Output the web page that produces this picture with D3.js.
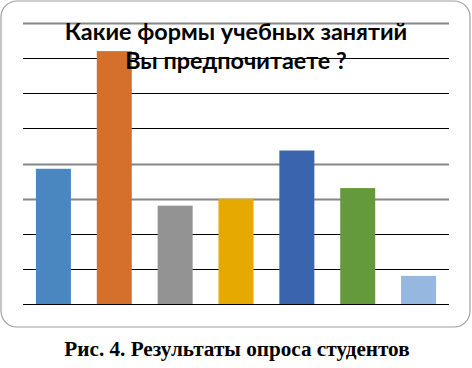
<!DOCTYPE html>
<html><head><meta charset="utf-8">
<script src="https://cdn.jsdelivr.net/npm/d3@7"></script>
<style>html,body{margin:0;padding:0;background:#fff;}svg{display:block;}</style>
</head><body>
<script>
const categories = ["Форма 1","Форма 2","Форма 3","Форма 4","Форма 5","Форма 6","Форма 7"];
const values = [3.85, 7.2, 2.8, 3.0, 4.37, 3.3, 0.8];
const barColors = ["#4a87c0","#d4702b","#939393","#e5a900","#3a64ae","#659a3c","#95b7e0"];
const yTicks = [0,1,2,3,4,5,6,7,8];
const titleLines = ["Какие формы учебных занятий","Вы предпочитаете ?"];
const caption = "Рис. 4. Результаты опроса студентов";

const W = 472, H = 368;
const svg = d3.select("body").append("svg").attr("width", W).attr("height", H);

svg.append("rect").attr("x",1).attr("y",1).attr("width",469).attr("height",326)
  .attr("rx",16).attr("ry",16).attr("fill","#fff").attr("stroke","#a0a0a0").attr("stroke-width",1.2);

const x = d3.scaleBand().domain(categories).range([23,449]).paddingInner(0.425).paddingOuter(0.2125);
const y = d3.scaleLinear().domain([0,8]).range([304,23]);

const grayIdx = new Set([8,4,3]);
svg.append("g").selectAll("line").data(yTicks).join("line")
  .attr("x1",23).attr("x2",449)
  .attr("y1",d=>Math.round(y(d))+0.5).attr("y2",d=>Math.round(y(d))+0.5)
  .attr("stroke",d=>grayIdx.has(d)?"#858585":"#000")
  .attr("stroke-width",d=>grayIdx.has(d)?2:1);

svg.append("g").selectAll("rect").data(values).join("rect")
  .attr("x",(d,i)=>x(categories[i])).attr("width",x.bandwidth())
  .attr("y",d=>y(d)).attr("height",d=>y(0)-y(d))
  .attr("fill",(d,i)=>barColors[i]);

svg.append("g").selectAll("text").data(titleLines).join("text")
  .attr("x",236).attr("y",(d,i)=>40+i*29).attr("text-anchor","middle")
  .attr("font-family","Lato, 'Open Sans', sans-serif").attr("font-weight","bold")
  .attr("font-size",23.4).attr("fill","#000").text(d=>d);

svg.append("text").attr("x",237).attr("y",356).attr("text-anchor","middle")
  .attr("font-family","'Liberation Serif', 'Times New Roman', serif").attr("font-weight","bold")
  .attr("font-size",21.2).attr("fill","#000").text(caption);
</script>
</body></html>
